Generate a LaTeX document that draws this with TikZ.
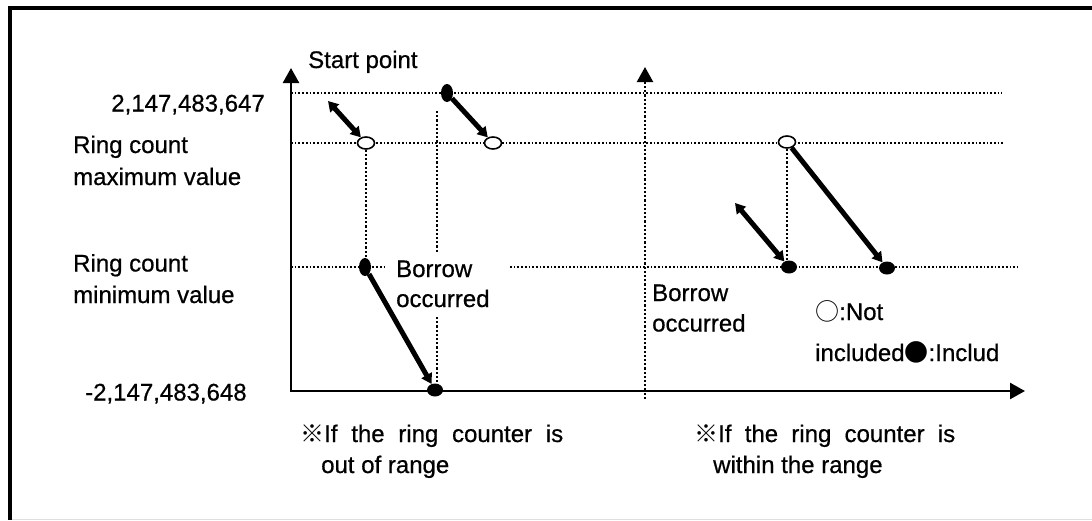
\documentclass[tikz,border=0pt]{standalone}
\usepackage{fontspec}
\setmainfont{Liberation Sans}
\newfontfamily\txtfont{Liberation Sans}[FakeBold=0.6]
\newfontfamily\cjk{Noto Sans CJK KR}
\usetikzlibrary{arrows.meta,shapes.geometric}

\begin{document}
\begin{tikzpicture}[x=1pt,y=-1pt,
  txt/.style={inner sep=0pt, font=\txtfont\fontsize{24}{29}\selectfont},
  axisline/.style={line width=2.5pt, -{Triangle[length=15pt,width=16pt]}},
  guide/.style={line width=1.6pt, dash pattern=on 1.7pt off 2pt},
  vguide/.style={line width=2.2pt, dash pattern=on 2.2pt off 2pt},
  bigarrow/.style={line width=5pt, -{Triangle[length=10pt,width=11.5pt]}},
  dblarrow/.style={line width=5pt, {Triangle[length=10pt,width=11.5pt]}-{Triangle[length=10pt,width=11.5pt]}},
  openpt/.style={ellipse, draw, line width=1.6pt, fill=white, minimum width=17pt, minimum height=12pt, inner sep=0pt},
  fullv/.style={ellipse, fill=black, minimum width=12pt, minimum height=18pt, inner sep=0pt},
  fullh/.style={ellipse, fill=black, minimum width=16pt, minimum height=13pt, inner sep=0pt},
]
\path[use as bounding box, fill=white] (0,0) rectangle (1092,520);

% frame
\draw[line width=4pt] (1092,8) -- (9.6,8) -- (9.6,520);
\draw[gray!25, line width=1pt] (11.6,519) -- (1092,519);

% guide lines
\draw[guide] (291,93) -- (1002,93);
\draw[guide] (291,143) -- (1003,143);
\draw[guide] (291,267) -- (386,267);
\draw[guide] (510,267) -- (1017,267);
\draw[vguide] (437,111) -- (437,252);
\draw[vguide] (437,317) -- (437,386);

% axes
\coordinate (O) at (291,391);
\coordinate (ytip) at (291,68);
\coordinate (x0) at (289.8,391);
\coordinate (xtip) at (1025,391);
\draw[axisline] (O) -- (ytip);
\draw[axisline] (x0) -- (xtip);
\coordinate (b0) at (645,399);
\coordinate (btip) at (645,67);
\draw[vguide, -{Triangle[length=15pt,width=16pt]}] (b0) -- (btip);

% points
\node[openpt] (o1) at (366,143) {};
\node[openpt] (o2) at (493,143) {};
\node[openpt] (o3) at (787,142) {};
\node[fullv] (f0) at (447,93) {};
\node[fullv] (f1) at (365,267) {};
\node[fullh] (f2) at (435,390) {};
\node[fullh] (f3) at (789,267) {};
\node[fullh] (f4) at (887,268) {};

\draw[vguide] (o1.south) -- (o1.south |- f1.north);
\draw[vguide] (o3.south) -- (o3.south |- f3.north);

% arrows
\coordinate (s1) at (328,101);
\coordinate (s2) at (735,203);
\draw[dblarrow] (s1) -- (o1);
\draw[bigarrow] (f0) -- (o2);
\draw[bigarrow] (f1) -- (f2);
\draw[dblarrow] (s2) -- (f3);
\draw[bigarrow] (o3) -- (f4);

% texts
\node[txt, anchor=base west] (sp) at (308,68) {Start point};
\node[txt, anchor=base east] (ymax) at (265,111.5) {2,147,483,647};
\node[txt, anchor=base west] (rc1a) at (73,153) {Ring count};
\node[txt, anchor=base west] (rc1b) at (73,185) {maximum value};
\node[txt, anchor=base west] (rc2a) at (73,271.5) {Ring count};
\node[txt, anchor=base west] (rc2b) at (73,303) {minimum value};
\node[txt, anchor=base west] (ymin) at (85,400.5) {-2,147,483,648};
\node[txt, anchor=base west] (bo1a) at (396,277) {Borrow};
\node[txt, anchor=base west] (bo1b) at (396,307) {occurred};
\node[txt, anchor=base west] (bo2a) at (652,301) {Borrow};
\node[txt, anchor=base west] (bo2b) at (652,331.5) {occurred};
\node[txt, anchor=base west] (lg1) at (815,320) {{\cjk ○}:Not};
\node[txt, anchor=base west] (lg2) at (815,361) {included{\cjk ●}:Includ};
\node[txt, anchor=base west] (c1a) at (300,442) {\hbox to 263pt{{\cjk ※}If\hfill the\hfill ring\hfill counter\hfill is}};
\node[txt, anchor=base west] (c1b) at (321,473) {out of range};
\node[txt, anchor=base west] (c2a) at (694,442) {\hbox to 261pt{{\cjk ※}If\hfill the\hfill ring\hfill counter\hfill is}};
\node[txt, anchor=base west] (c2b) at (713,473) {within the range};
\end{tikzpicture}
\end{document}
